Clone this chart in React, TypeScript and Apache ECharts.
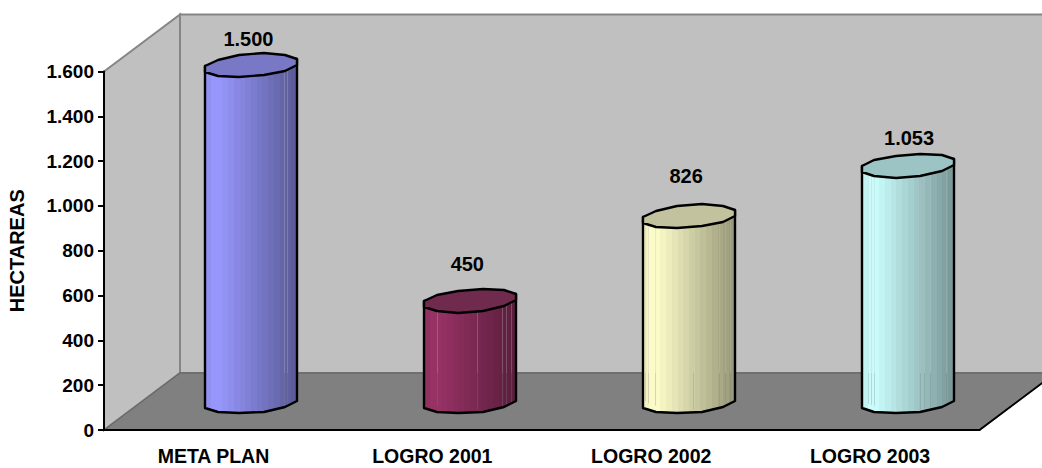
import React, { useEffect, useRef } from "react";
import * as echarts from "echarts";

const categories = ["META PLAN", "LOGRO 2001", "LOGRO 2002", "LOGRO 2003"];
const hectares = [1500, 450, 826, 1053];
const bodyColors = ["#9999FF", "#993366", "#FFFFCC", "#CCFFFF"];
const topColors = ["#7878C6", "#6F2A4E", "#C2C29E", "#9CC4C4"];
const labelNudges = [-26, -37, -40, -28];
const labelShiftX = [-3, -3, -3, 1];
const facetSeams = [
  [79, 82],
  [13, 52.5, 78, 82, 87],
  [2, 5, 12, 50, 76, 82, 87],
  [6, 9, 12, 58, 62, 68, 84],
];

const FONT = '"Liberation Sans", Arial, sans-serif';
const DEPTH_X = 76;
const DEPTH_Y = -57;
const HALF_WIDTH = 46;
const SHEAR_X = 15;
const SHEAR_Y = 12;
const SEGMENTS = 12;
const BANDS = 16;
const OUTLINE = 2.4;

const STEP = (2 * Math.PI) / SEGMENTS;
const RADIUS = HALF_WIDTH / Math.cos(STEP / 2);
const MAJOR = Math.sqrt(RADIUS * RADIUS - SHEAR_X * SHEAR_X);
const START = Math.atan2(SHEAR_X, MAJOR) - STEP / 2;

const fmt = (v: number) => String(v).replace(/\B(?=(\d{3})+$)/g, ".");

function shade(hex: string, m: number) {
  const n = parseInt(hex.slice(1), 16);
  const c = [(n >> 16) & 255, (n >> 8) & 255, n & 255].map((x) => Math.round(x * m));
  return `rgb(${c[0]},${c[1]},${c[2]})`;
}

function bandedGradient(hex: string) {
  const stops: { offset: number; color: string }[] = [];
  for (let k = 0; k < BANDS; k++) {
    const t = k / (BANDS - 1);
    const m = t < 0.1 ? 0.95 + t * 0.5 : 1 - (t - 0.1) * 0.44;
    const color = shade(hex, m);
    stops.push({ offset: k / BANDS, color });
    stops.push({ offset: (k + 1) / BANDS, color });
  }
  return new echarts.graphic.LinearGradient(0, 0, 1, 0, stops);
}

function ringPoint(cx: number, cy: number, a: number) {
  return [
    Math.round(cx + MAJOR * Math.cos(a) + SHEAR_X * Math.sin(a)),
    Math.round(cy - SHEAR_Y * Math.sin(a)),
  ];
}

function renderWalls(params: any) {
  const g = params.coordSys;
  const L = g.x, T = g.y, R = g.x + g.width, B = g.y + g.height;
  const edge = "#858585";
  return {
    type: "group",
    children: [
      {
        type: "polygon",
        shape: { points: [[L + DEPTH_X, T + DEPTH_Y], [L + DEPTH_X + g.width, T + DEPTH_Y], [R + DEPTH_X, B + DEPTH_Y], [L + DEPTH_X, B + DEPTH_Y]] },
        style: { fill: "#C0C0C0", stroke: edge, lineWidth: 2 },
      },
      {
        type: "polygon",
        shape: { points: [[L, T], [L + DEPTH_X, T + DEPTH_Y], [L + DEPTH_X, B + DEPTH_Y], [L, B]] },
        style: { fill: "#C0C0C0", stroke: edge, lineWidth: 2 },
      },
      {
        type: "polygon",
        shape: { points: [[L, B], [L + DEPTH_X, B + DEPTH_Y], [R + DEPTH_X, B + DEPTH_Y], [R, B]] },
        style: { fill: "#808080", stroke: "#6A6A6A", lineWidth: 1.5 },
      },
      {
        type: "line",
        shape: { x1: R, y1: B, x2: R + DEPTH_X, y2: B + DEPTH_Y },
        style: { stroke: "#000", lineWidth: 2 },
      },
    ],
  };
}

function renderCylinder(_: any, api: any) {
  const i = api.value(0);
  const v = api.value(1);
  const base = api.coord([i, 0]);
  const top = api.coord([i, v]);
  const cx = base[0] + DEPTH_X / 2;
  const by = base[1] + DEPTH_Y / 2;
  const ty = top[1] + DEPTH_Y / 2;
  const floorBack = base[1] + DEPTH_Y;

  const ring: number[][] = [];
  for (let k = 0; k < SEGMENTS; k++) ring.push(ringPoint(cx, ty, START + k * STEP));

  const lower: number[][] = [];
  for (let k = 0; k <= SEGMENTS / 2; k++) lower.push(ringPoint(cx, by, START + Math.PI + k * STEP));

  const rightTop = ringPoint(cx, ty, START + STEP);
  const leftTop = ringPoint(cx, ty, START + Math.PI);
  const outlinePoints = [leftTop, ...lower, rightTop];

  const seams: any[] = [];
  for (const off of facetSeams[i]) {
    const x = Math.round(cx - HALF_WIDTH + off) + 0.5;
    const u = Math.min(1, Math.abs(x - cx) / HALF_WIDTH);
    const end = by + SHEAR_Y * Math.sqrt(1 - u * u) - 4;
    seams.push({
      type: "line",
      shape: { x1: x, y1: ty, x2: x, y2: floorBack },
      style: { stroke: "#C0C0C0", opacity: 0.3, lineWidth: 1 },
    });
    seams.push({
      type: "line",
      shape: { x1: x, y1: floorBack, x2: x, y2: end },
      style: { stroke: "#808080", opacity: 0.3, lineWidth: 1 },
    });
  }

  return {
    type: "group",
    children: [
      {
        type: "polygon",
        shape: { points: outlinePoints },
        style: { fill: bandedGradient(bodyColors[i]) },
      },
      ...seams,
      {
        type: "polygon",
        shape: { points: outlinePoints },
        style: { fill: "none", stroke: "#000", lineWidth: OUTLINE, lineJoin: "round" },
      },
      {
        type: "polygon",
        shape: { points: ring },
        style: { fill: topColors[i], stroke: "#000", lineWidth: OUTLINE, lineJoin: "round" },
      },
      {
        type: "text",
        x: cx + labelShiftX[i],
        y: ty + labelNudges[i],
        style: {
          text: fmt(v),
          font: `bold 20px ${FONT}`,
          fill: "#000",
          align: "center",
          verticalAlign: "middle",
        },
      },
    ],
  };
}

export default function App() {
  const ref = useRef<HTMLDivElement>(null);
  useEffect(() => {
    const chart = echarts.init(ref.current!, null, { renderer: "svg" });
    chart.setOption({
      animation: false,
      backgroundColor: "#FFFFFF",
      grid: { left: 104, top: 71.5, width: 875.5, height: 358.5, outerBoundsMode: "none" },
      xAxis: {
        type: "category",
        data: categories,
        boundaryGap: true,
        axisLine: { lineStyle: { color: "#000", width: 2 } },
        axisTick: { length: 6, lineStyle: { color: "#000", width: 2 } },
        axisLabel: { color: "#000", fontFamily: FONT, fontWeight: "bold", fontSize: 19.5, margin: 16 },
      },
      yAxis: {
        type: "value",
        min: 0,
        max: 1600,
        interval: 200,
        name: "HECTAREAS",
        nameLocation: "middle",
        nameRotate: 90,
        nameGap: 77,
        nameTextStyle: { color: "#000", fontFamily: FONT, fontWeight: "bold", fontSize: 20 },
        splitLine: { show: false },
        axisLine: { show: true, lineStyle: { color: "#000", width: 2 } },
        axisTick: { show: true, length: 6, lineStyle: { color: "#000", width: 2 } },
        axisLabel: { color: "#000", fontFamily: FONT, fontWeight: "bold", fontSize: 19, margin: 10, formatter: (v: number) => fmt(v) },
      },
      series: [
        { type: "custom", z: -1, silent: true, renderItem: renderWalls, data: [[0, 0]] },
        {
          type: "custom",
          z: 5,
          renderItem: renderCylinder,
          encode: { x: 0, y: 1 },
          data: hectares.map((v, i) => [i, v]),
        },
      ],
    });
    return () => chart.dispose();
  }, []);
  return (
    <div
      ref={ref}
      style={{ position: "fixed", left: 0, top: 0, width: 1042, height: 468, overflow: "hidden" }}
    />
  );
}
